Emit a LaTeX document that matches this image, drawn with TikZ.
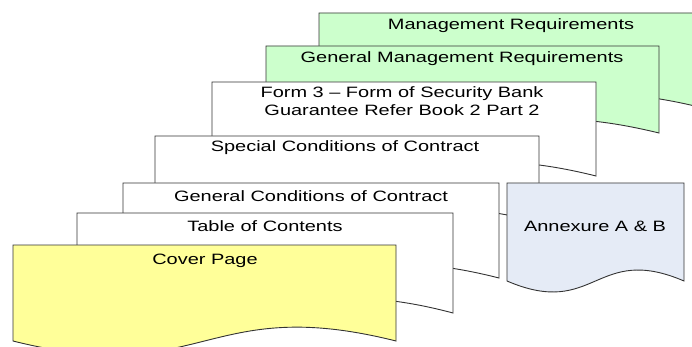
\documentclass[tikz,border=0pt]{standalone}
\usepackage{fontspec}
\setmainfont{Liberation Sans}
\definecolor{mgreen}{HTML}{CCFFCC}
\definecolor{myellow}{HTML}{FFFF99}
\definecolor{mblue}{HTML}{E5EBF6}
\definecolor{mline}{HTML}{333333}
\newcommand\docshape[6]{% x y w h c style
  \filldraw[#6] (#1,{#2+#4}) -- (#1,#2) -- ({#1+#3},#2) -- ({#1+#3},{#2+#4})
    .. controls ({#1+0.5*#3},{#2+#4-#5}) and ({#1+0.5*#3},{#2+#4+#5}) .. (#1,{#2+#4}) -- cycle;}
\newcommand\stx[1]{\scalebox{1.33}[1]{#1}}
\tikzset{
  docbox/.style={draw=mline, line width=0.9pt, line join=miter},
  lbl/.style={anchor=base, inner sep=0pt, font=\fontsize{15}{18.7}\selectfont, text=black},
}
\begin{document}
\begin{tikzpicture}[x=1pt,y=-1pt]
\useasboundingbox (0,0) rectangle (692,347);
\clip (0,0) rectangle (692,347);
\docshape{319}{13}{384}{95}{48}{docbox, fill=mgreen}
\node[lbl] (mr) at (511,30) {\stx{Management Requirements}};
\docshape{266}{46}{393}{87}{48}{docbox, fill=mgreen}
\node[lbl] (gmr) at (462,62.5) {\stx{General Management Requirements}};
\docshape{212}{82}{384}{94}{48}{docbox, fill=white}
\node[lbl] (f3) at (402,116) {\stx{\begin{tabular}[b]{@{}c@{}}Form 3 -- Form of Security Bank\\Guarantee Refer Book 2 Part 2\end{tabular}}};
\docshape{155}{136}{384}{86}{48}{docbox, fill=white}
\node[lbl] (sc) at (345,152) {\stx{Special Conditions of Contract}};
\docshape{507}{183}{177}{98}{38}{docbox, fill=mblue}
\node[lbl] (ann) at (595,231) {\stx{Annexure A \& B}};
\docshape{123}{183}{376}{95}{48}{docbox, fill=white}
\node[lbl] (gc) at (311,201) {\stx{General Conditions of Contract}};
\docshape{77}{213}{376}{100}{50}{docbox, fill=white}
\node[lbl] (toc) at (265,231) {\stx{Table of Contents}};
\docshape{13}{245}{383}{96}{48}{docbox, fill=myellow}
\node[lbl] (cov) at (205,264) {\stx{Cover Page}};
\end{tikzpicture}
\end{document}
